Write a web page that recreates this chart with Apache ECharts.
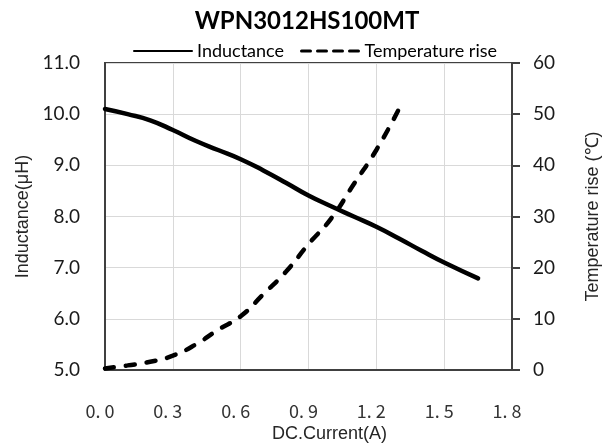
<!DOCTYPE html>
<html>
<head>
<meta charset="utf-8">
<script src="https://cdn.jsdelivr.net/npm/echarts@6/dist/echarts.min.js"></script>
<style>
html,body{margin:0;padding:0;background:#fff;}
#chart{width:614px;height:448px;}
</style>
</head>
<body>
<div id="chart"></div>
<script>
const chartTitle = 'WPN3012HS100MT';
const seriesNames = ['Inductance', 'Temperature rise'];
const currentL = [0, 0.1, 0.2, 0.3, 0.4, 0.5, 0.6, 0.7, 0.8, 0.9, 1.0, 1.1, 1.2, 1.3, 1.4, 1.5, 1.65];
const inductance = [10.1, 10.0, 9.88, 9.69, 9.48, 9.3, 9.12, 8.9, 8.66, 8.41, 8.2, 8.0, 7.8, 7.57, 7.33, 7.1, 6.79];
const currentT = [0, 0.1, 0.2, 0.3, 0.4, 0.5, 0.6, 0.7, 0.8, 0.9, 1.0, 1.1, 1.2, 1.3];
const tempRise = [0.3, 0.9, 1.6, 2.8, 4.95, 7.85, 10.5, 14.8, 19.2, 24.6, 29.6, 36.3, 43.0, 51.0];
const xAxisName = 'DC.Current(A)';
const yLeftName = 'Inductance(μH)';
const yRightName = 'Temperature rise (℃)';

const lData = currentL.map((x, i) => [x, inductance[i]]);
const tData = currentT.map((x, i) => [x, tempRise[i]]);

const axisColor = '#404040';
const calibri = 'Lato';
const chart = echarts.init(document.getElementById('chart'), null, {renderer: 'canvas'});
chart.setOption({
  animation: false,
  backgroundColor: '#ffffff',
  title: {
    text: chartTitle,
    left: 'center',
    top: 4,
    textStyle: {fontFamily: calibri, fontWeight: 'bold', fontSize: 24, color: '#000'}
  },
  legend: [
    {
      left: 128, top: 37,
      itemWidth: 58, itemHeight: 14, itemGap: 19,
      data: [{name: seriesNames[0], itemStyle: {opacity: 0}, lineStyle: {width: 2, type: 'solid', color: '#000', opacity: 1}}],
      textStyle: {fontFamily: calibri, fontSize: 18, color: '#000'}
    },
    {
      left: 295, top: 37,
      itemWidth: 58, itemHeight: 14, itemGap: 19,
      data: [{name: seriesNames[1], itemStyle: {opacity: 0}, lineStyle: {width: 3, type: [9, 7], color: '#000', opacity: 1}}],
      textStyle: {fontFamily: calibri, fontSize: 18, color: '#000'}
    }
  ],
  grid: {
    left: 105, right: 102, top: 63, bottom: 78,
    show: true, borderColor: axisColor, borderWidth: 2, backgroundColor: 'transparent'
  },
  xAxis: {
    type: 'value', min: 0, max: 1.8, interval: 0.3,
    name: xAxisName, nameLocation: 'middle', nameGap: 54,
    nameTextStyle: {fontFamily: 'Liberation Sans', fontSize: 18, color: '#262626', padding: [0, 0, 0, 42]},
    axisLine: {show: true, lineStyle: {color: axisColor, width: 2}},
    axisTick: {show: false},
    axisLabel: {
      margin: 32, fontFamily: 'Noto Sans CJK JP', fontSize: 18, color: '#333',
      padding: [0, 10, 0, 0],
      formatter: v => v.toFixed(1).replace('.', '. ')
    },
    splitLine: {show: true, lineStyle: {color: '#d9d9d9', width: 1}}
  },
  yAxis: [
    {
      type: 'value', min: 5, max: 11, interval: 1, position: 'left',
      name: yLeftName, nameLocation: 'middle', nameGap: 73, nameRotate: 90,
      nameTextStyle: {fontFamily: 'Liberation Sans', fontSize: 18, color: '#262626'},
      axisLine: {show: true, lineStyle: {color: axisColor, width: 2}},
      axisTick: {show: false},
      axisLabel: {margin: 25, fontFamily: calibri, fontSize: 19, color: '#1a1a1a', formatter: v => v.toFixed(1)},
      splitLine: {show: true, lineStyle: {color: '#d9d9d9', width: 1}}
    },
    {
      type: 'value', min: 0, max: 60, interval: 10, position: 'right',
      name: yRightName, nameLocation: 'middle', nameGap: 72, nameRotate: 90,
      nameTextStyle: {fontFamily: 'Liberation Sans', fontSize: 18, color: '#262626'},
      axisLine: {show: true, lineStyle: {color: axisColor, width: 2}},
      axisTick: {show: true, inside: false, length: 8, lineStyle: {color: axisColor, width: 2}},
      axisLabel: {margin: 21, fontFamily: calibri, fontSize: 19, color: '#1a1a1a'},
      splitLine: {show: false}
    }
  ],
  series: [
    {
      name: seriesNames[0], type: 'line', yAxisIndex: 0, data: lData,
      smooth: true, symbol: 'none',
      lineStyle: {color: '#000', width: 4.5, cap: 'round'},
      itemStyle: {color: '#000'}
    },
    {
      name: seriesNames[1], type: 'line', yAxisIndex: 1, data: tData,
      smooth: true, symbol: 'none',
      lineStyle: {color: '#000', width: 4.5, type: [9, 12], cap: 'round'},
      itemStyle: {color: '#000'}
    }
  ]
});
</script>
</body>
</html>
